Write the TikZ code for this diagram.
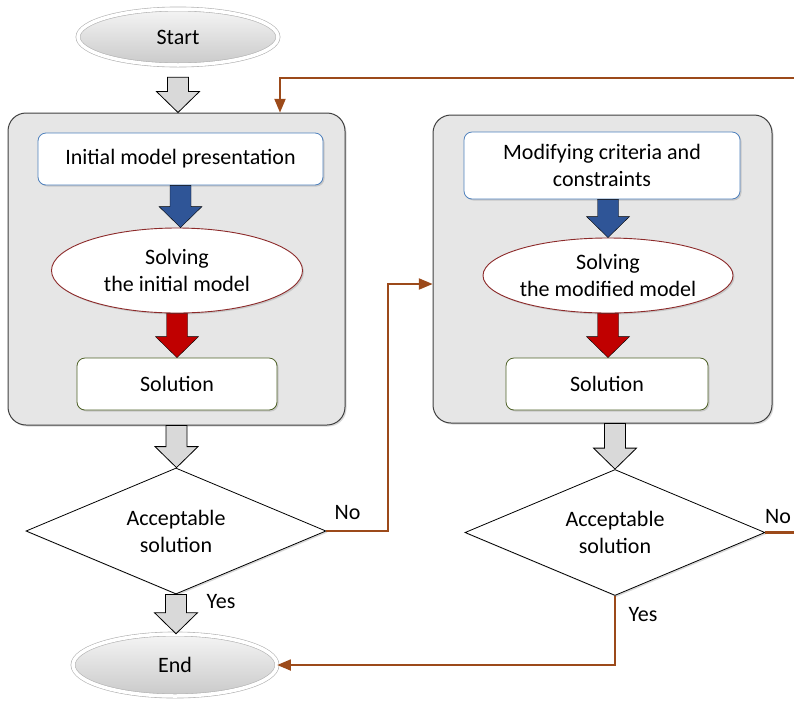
\documentclass[tikz,border=0pt]{standalone}
\usepackage{fontspec}
\setmainfont{Carlito}
\usetikzlibrary{shapes,arrows,calc,shadows}

\definecolor{panel}{HTML}{E6E6E6}
\definecolor{paneledge}{HTML}{404040}
\definecolor{inputedge}{HTML}{4F81BD}
\definecolor{solveredge}{HTML}{8C2A2A}
\definecolor{resultedge}{HTML}{4F6228}
\definecolor{blockblue}{HTML}{2F5597}
\definecolor{blockred}{HTML}{C00000}
\definecolor{blockgray}{HTML}{D9D9D9}
\definecolor{linkbrown}{HTML}{9C4A1A}

\tikzstyle{softshadow} = [drop shadow={shadow xshift=1.5pt, shadow yshift=-1.5pt, opacity=.3}]
\tikzstyle{group} = [draw=paneledge, line width=1pt, fill=panel, rounded corners=18pt, softshadow]
\tikzstyle{terminal} = [ellipse, draw=gray!60, double=white, double distance=3.5pt, line width=.6pt, top color=gray!8, bottom color=gray!42, inner sep=0pt, softshadow]
\tikzstyle{inputbox} = [draw=inputedge, line width=.8pt, fill=white, rounded corners=8pt, align=center, inner sep=0pt, softshadow]
\tikzstyle{solver} = [ellipse, draw=solveredge, line width=.9pt, fill=white, align=center, inner sep=0pt, softshadow]
\tikzstyle{result} = [draw=resultedge, line width=.8pt, fill=white, rounded corners=8pt, inner sep=0pt, softshadow]
\tikzstyle{decision} = [diamond, draw, line width=.8pt, fill=white, aspect=2.38, minimum width=300pt, minimum height=126pt, inner sep=0pt, align=center, softshadow]
\tikzstyle{fat} = [to path={let \p1=(\tikztostart), \p2=(\tikztotarget) in
  (\x1-10.5pt,\y1) -- (\x1-10.5pt,\y2+21pt) -- (\x1-21.5pt,\y2+21pt) -- (\x1,\y2)
  -- (\x1+21.5pt,\y2+21pt) -- (\x1+10.5pt,\y2+21pt) -- (\x1+10.5pt,\y1) -- cycle}]
\tikzstyle{hollowarrow} = [fat, draw=black, line width=.8pt, fill=blockgray]
\tikzstyle{bluearrow} = [fat, fill=blockblue]
\tikzstyle{redarrow} = [fat, fill=blockred]
\tikzstyle{link} = [draw=linkbrown, line width=2.2pt, -triangle 45]

\begin{document}
\begin{tikzpicture}[x=1pt,y=-1pt,font=\fontsize{22}{27}\selectfont]
	\clip (0,0) rectangle (794,702);

	% panels
	\node[group, minimum width=337pt, minimum height=312pt] (groupL) at (176.5,269) {};
	\node[group, minimum width=339pt, minimum height=308pt] (groupR) at (602.5,269) {};

	% start and end
	\node[terminal, minimum width=200pt, minimum height=56pt] (start) at (178,37) {Start};
	\node[terminal, minimum width=204pt, minimum height=62pt] (finish) at (175,665) {End};

	% initial model
	\node[inputbox, minimum width=285pt, minimum height=52pt] (initL) at (180.5,159) {Initial model presentation};
	\node[solver, minimum width=251pt, minimum height=85pt] (solveL) at (177,270.5) {Solving\\the initial model};
	\node[result, minimum width=200pt, minimum height=52pt] (solL) at (177,384) {Solution};
	\node[decision] (decL) at (176,531) {Acceptable\\solution};

	% modified model
	\node[inputbox, minimum width=276pt, minimum height=67pt] (initR) at (602,165.5) {Modifying criteria and\\constraints};
	\node[solver, minimum width=250pt, minimum height=75pt] (solveR) at (608,275.5) {Solving\\the modified model};
	\node[result, minimum width=202pt, minimum height=52pt] (solR) at (607,384) {Solution};
	\node[decision] (decR) at (615,532.5) {Acceptable\\solution};

	% block arrows
	\draw[hollowarrow] ([yshift=-12pt]start.south) to (groupL.north);
	\draw[bluearrow] (initL.south) to (solveL.north);
	\draw[redarrow] (solveL.south) to (solL.north);
	\draw[hollowarrow] (groupL.south) to (decL.north);
	\draw[hollowarrow] (decL.south) to (finish.north);
	\draw[bluearrow] (solveR.north |- initR.south) to (solveR.north);
	\draw[redarrow] (solveR.south) to (solR.north);
	\draw[hollowarrow] (decR.north |- groupR.south) to (decR.north);

	% feedback lines
	\coordinate (turnA) at (388,284);
	\coordinate (retR) at (830,78);
	\coordinate (retL) at (280,78);
	\draw[link] (decL.east) -| (turnA) -- (turnA -| groupR.west);
	\draw[link] (decR.east) -| (retR) -- (retL) -- (retL |- groupL.north);
	\draw[link] (decR.south) |- (finish.east);

	% labels
	\node (noL) at (347.5,512.5) {No};
	\node (yesL) at (221,602) {Yes};
	\node (noR) at (778,517) {No};
	\node (yesR) at (643,615) {Yes};

\end{tikzpicture}
\end{document}
